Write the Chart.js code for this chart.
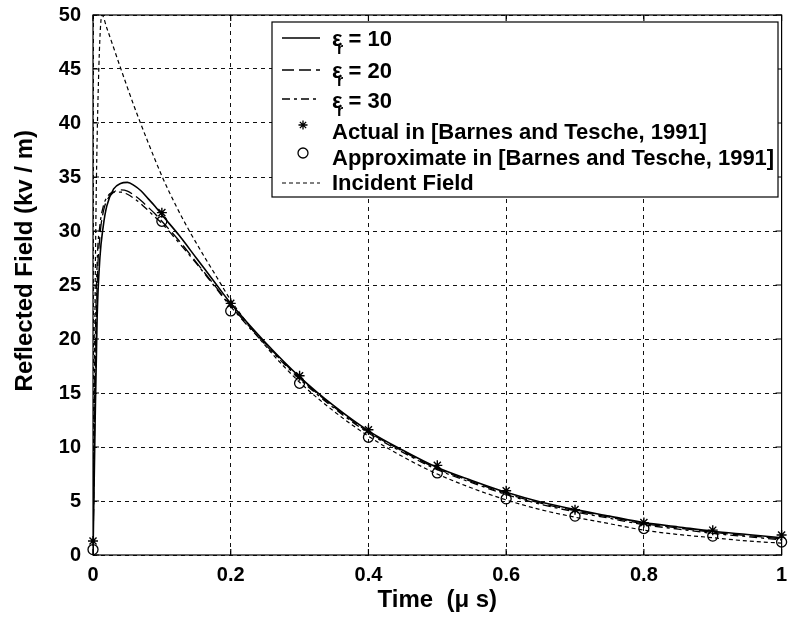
<!DOCTYPE html>
<html lang="en">
<head>
    <meta charset="UTF-8">
    <title>Reflected Field</title>
    <script src="https://cdn.jsdelivr.net/npm/chart.js"></script>
    <style>
        body {
            margin: 0;
            background: #fff;
        }
        .chart-container {
            width: 788px;
            height: 623px;
        }
    </style>
</head>
<body>

    <div class="chart-container">
        <canvas id="fieldChart"></canvas>
    </div>

    <script>
        // time axis (us) for the computed curves
        const timeCurve = [0, 0.003, 0.006, 0.01, 0.015, 0.02, 0.03, 0.04, 0.05, 0.06, 0.07, 0.08, 0.09, 0.1,
            0.125, 0.15, 0.175, 0.2, 0.25, 0.3, 0.35, 0.4, 0.45, 0.5, 0.55, 0.6, 0.65, 0.7, 0.75, 0.8, 0.85, 0.9, 0.95, 1.0];
        const eps10 = [0, 12, 22, 27.5, 30.5, 32.3, 33.9, 34.4, 34.5, 34.2, 33.7, 33.0, 32.3, 31.5,
            29.6, 27.5, 25.4, 23.3, 19.7, 16.5, 13.8, 11.5, 9.7, 8.1, 6.9, 5.8, 4.9, 4.2, 3.6, 3.0, 2.6, 2.2, 1.9, 1.6];
        const eps20 = [0, 15, 25, 29.5, 31.8, 32.8, 33.6, 33.8, 33.7, 33.3, 32.8, 32.2, 31.6, 30.9,
            29.1, 27.1, 25.1, 23.1, 19.6, 16.4, 13.7, 11.4, 9.6, 8.0, 6.8, 5.7, 4.8, 4.1, 3.5, 2.9, 2.5, 2.1, 1.8, 1.5];
        const eps30 = [0, 18, 27, 30.5, 32.3, 33.1, 33.6, 33.6, 33.4, 33.0, 32.5, 31.9, 31.3, 30.7,
            28.9, 27.0, 25.0, 23.0, 19.5, 16.3, 13.6, 11.3, 9.5, 7.9, 6.7, 5.6, 4.7, 4.0, 3.4, 2.8, 2.4, 2.0, 1.7, 1.4];

        // incident field
        const timeIncident = [0, 0.004, 0.008, 0.013, 0.02, 0.04, 0.06, 0.08, 0.1, 0.12, 0.14, 0.16, 0.18, 0.2,
            0.25, 0.3, 0.35, 0.4, 0.45, 0.5, 0.55, 0.6, 0.65, 0.7, 0.75, 0.8, 0.85, 0.9, 0.95, 1.0];
        const incident = [0, 30, 44, 50, 48.8, 45.1, 41.5, 38.2, 35.1, 32.4, 30.0, 27.8, 25.7, 23.6,
            19.4, 16.0, 13.3, 11.0, 9.1, 7.5, 6.2, 5.1, 4.2, 3.5, 2.9, 2.3, 1.9, 1.6, 1.3, 1.1];

        // Barnes and Tesche points
        const timeMarkers = [0, 0.1, 0.2, 0.3, 0.4, 0.5, 0.6, 0.7, 0.8, 0.9, 1.0];
        const actual = [1.3, 31.7, 23.3, 16.6, 11.6, 8.3, 5.95, 4.2, 3.0, 2.3, 1.85];
        const approx = [0.5, 30.9, 22.6, 15.9, 10.9, 7.6, 5.2, 3.6, 2.45, 1.75, 1.2];

        const xTicks = [0, 0.2, 0.4, 0.6, 0.8, 1];
        const xTickLabels = ['0', '0.2', '0.4', '0.6', '0.8', '1'];
        const yTicks = [0, 5, 10, 15, 20, 25, 30, 35, 40, 45, 50];

        const FONT = 'Arial, "Liberation Sans", sans-serif';

        function toPoints(xs, ys) {
            return xs.map((x, i) => ({ x: x, y: ys[i] }));
        }

        // draws the MATLAB-like box, inward ticks, y title and legend
        const matlabPlugin = {
            id: 'matlabStyle',
            afterDraw(chart) {
                const ctx = chart.ctx;
                const a = chart.chartArea;
                const xs = chart.scales.x;
                const ys = chart.scales.y;

                ctx.save();
                ctx.strokeStyle = '#000';
                ctx.lineWidth = 1.2;
                ctx.setLineDash([]);
                ctx.strokeRect(a.left, a.top, a.right - a.left, a.bottom - a.top);

                // inward tick marks
                ctx.beginPath();
                xTicks.forEach(t => {
                    const px = xs.getPixelForValue(t);
                    ctx.moveTo(px, a.bottom); ctx.lineTo(px, a.bottom - 6);
                    ctx.moveTo(px, a.top); ctx.lineTo(px, a.top + 6);
                });
                yTicks.forEach(t => {
                    const py = ys.getPixelForValue(t);
                    ctx.moveTo(a.left, py); ctx.lineTo(a.left + 6, py);
                    ctx.moveTo(a.right, py); ctx.lineTo(a.right - 6, py);
                });
                ctx.stroke();

                // y axis title
                ctx.fillStyle = '#000';
                ctx.font = 'bold 24px ' + FONT;
                ctx.textAlign = 'center';
                ctx.textBaseline = 'middle';
                ctx.translate(25, a.top + (a.bottom - a.top) * 0.455);
                ctx.rotate(-Math.PI / 2);
                ctx.fillText('Reflected Field (kv / m)', 0, 0);
                ctx.restore();

                // legend
                ctx.save();
                const box = { left: 272, top: 22, right: 778, bottom: 197 };
                ctx.fillStyle = '#fff';
                ctx.fillRect(box.left, box.top, box.right - box.left, box.bottom - box.top);
                ctx.strokeStyle = '#000';
                ctx.lineWidth = 1.2;
                ctx.strokeRect(box.left, box.top, box.right - box.left, box.bottom - box.top);

                const rows = [
                    { sampleY: 38, textY: 40 },
                    { sampleY: 70, textY: 72 },
                    { sampleY: 99, textY: 102 },
                    { sampleY: 125, textY: 133 },
                    { sampleY: 153, textY: 159 },
                    { sampleY: 183, textY: 184 }
                ];
                const order = [0, 1, 2, 4, 5, 3];
                ctx.fillStyle = '#000';
                ctx.textAlign = 'left';
                ctx.textBaseline = 'middle';
                rows.forEach((r, i) => {
                    const ds = chart.data.datasets[order[i]];
                    ctx.strokeStyle = '#000';
                    if (ds.showLine) {
                        ctx.lineWidth = ds.borderWidth;
                        ctx.setLineDash(ds.borderDash || []);
                        ctx.beginPath();
                        ctx.moveTo(282, r.sampleY);
                        ctx.lineTo(320, r.sampleY);
                        ctx.stroke();
                    } else {
                        ctx.setLineDash([]);
                        ctx.lineWidth = 1.3;
                        ctx.beginPath();
                        if (ds.pointStyle === 'star') {
                            const s = 4.5;
                            ctx.moveTo(303 - s, r.sampleY); ctx.lineTo(303 + s, r.sampleY);
                            ctx.moveTo(303, r.sampleY - s); ctx.lineTo(303, r.sampleY + s);
                            ctx.moveTo(303 - s * 0.7, r.sampleY - s * 0.7); ctx.lineTo(303 + s * 0.7, r.sampleY + s * 0.7);
                            ctx.moveTo(303 - s * 0.7, r.sampleY + s * 0.7); ctx.lineTo(303 + s * 0.7, r.sampleY - s * 0.7);
                        } else {
                            ctx.arc(303, r.sampleY, 5, 0, Math.PI * 2);
                        }
                        ctx.stroke();
                    }
                    const label = ds.label;
                    ctx.font = 'bold 22px ' + FONT;
                    if (label.startsWith('εr')) {
                        ctx.fillText('ε', 332, r.textY);
                        const w = ctx.measureText('ε').width;
                        ctx.font = 'bold 16px ' + FONT;
                        ctx.fillText('r', 337, r.textY + 10);
                        ctx.font = 'bold 22px ' + FONT;
                        ctx.fillText(label.slice(2).trim(), 332 + w + 6, r.textY);
                    } else {
                        ctx.fillText(label, 332, r.textY);
                    }
                });
                ctx.restore();
            }
        };

        const gridStyle = {
            color: '#111',
            lineWidth: 1,
            drawTicks: false
        };

        new Chart(document.getElementById('fieldChart').getContext('2d'), {
            type: 'scatter',
            data: {
                datasets: [
                    {
                        label: 'εr = 10',
                        data: toPoints(timeCurve, eps10),
                        showLine: true,
                        borderColor: '#000',
                        borderWidth: 1.6,
                        pointRadius: 0,
                        cubicInterpolationMode: 'monotone'
                    },
                    {
                        label: 'εr = 20',
                        data: toPoints(timeCurve, eps20),
                        showLine: true,
                        borderColor: '#000',
                        borderWidth: 1.3,
                        borderDash: [12, 5],
                        pointRadius: 0,
                        cubicInterpolationMode: 'monotone'
                    },
                    {
                        label: 'εr = 30',
                        data: toPoints(timeCurve, eps30),
                        showLine: true,
                        borderColor: '#000',
                        borderWidth: 1.3,
                        borderDash: [8, 4, 3, 4],
                        pointRadius: 0,
                        cubicInterpolationMode: 'monotone'
                    },
                    {
                        label: 'Incident Field',
                        data: toPoints(timeIncident, incident),
                        showLine: true,
                        borderColor: '#000',
                        borderWidth: 1.2,
                        borderDash: [4, 3],
                        pointRadius: 0,
                        cubicInterpolationMode: 'monotone'
                    },
                    {
                        label: 'Actual in [Barnes and Tesche, 1991]',
                        data: toPoints(timeMarkers, actual),
                        showLine: false,
                        pointStyle: 'star',
                        pointRadius: 5,
                        borderColor: '#000',
                        borderWidth: 1.4,
                        clip: false
                    },
                    {
                        label: 'Approximate in [Barnes and Tesche, 1991]',
                        data: toPoints(timeMarkers, approx),
                        showLine: false,
                        pointStyle: 'circle',
                        pointRadius: 5,
                        backgroundColor: 'rgba(255,255,255,0)',
                        borderColor: '#000',
                        borderWidth: 1.3,
                        clip: false
                    }
                ]
            },
            options: {
                responsive: true,
                maintainAspectRatio: false,
                animation: false,
                layout: {
                    padding: { top: 15, right: 3, left: 0, bottom: 0 }
                },
                plugins: {
                    legend: { display: false },
                    tooltip: { enabled: false }
                },
                scales: {
                    x: {
                        type: 'linear',
                        min: 0,
                        max: 1,
                        afterBuildTicks: scale => {
                            scale.ticks = xTicks.map(v => ({ value: v }));
                        },
                        afterFit: scale => {
                            scale.height = 68;
                            scale.paddingLeft = 0;
                            scale.paddingRight = 0;
                        },
                        grid: Object.assign({}, gridStyle),
                        border: { display: false, dash: [4, 4] },
                        ticks: {
                            color: '#000',
                            padding: 8,
                            maxRotation: 0,
                            callback: (value, index) => xTickLabels[index],
                            font: { family: FONT, size: 20, weight: 'bold' }
                        },
                        title: {
                            display: true,
                            text: 'Time  (μ s)',
                            color: '#000',
                            padding: { top: 0, bottom: 8 },
                            font: { family: FONT, size: 24, weight: 'bold' }
                        }
                    },
                    y: {
                        type: 'linear',
                        min: 0,
                        max: 50,
                        afterBuildTicks: scale => {
                            scale.ticks = yTicks.map(v => ({ value: v }));
                        },
                        afterFit: scale => {
                            scale.width = 93;
                            scale.paddingTop = 0;
                            scale.paddingBottom = 0;
                        },
                        grid: Object.assign({}, gridStyle),
                        border: { display: false, dash: [4, 4] },
                        ticks: {
                            color: '#000',
                            padding: 12,
                            font: { family: FONT, size: 20, weight: 'bold' }
                        }
                    }
                }
            },
            plugins: [matlabPlugin]
        });
    </script>

</body>
</html>
